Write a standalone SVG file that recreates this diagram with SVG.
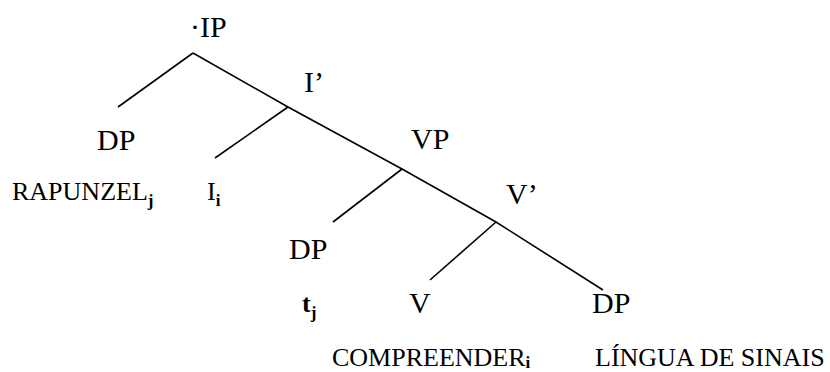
<svg xmlns="http://www.w3.org/2000/svg" width="830" height="372" viewBox="0 0 830 372">
<style>
text{font-family:'Liberation Serif','Times New Roman',Times,'DejaVu Serif',serif;fill:#000}
.n{font-size:30px}
.t{font-size:26px}
.s{font-size:17px;font-weight:bold}
.b{font-weight:bold}
.e{stroke:#000;stroke-width:1.6;fill:none}
</style>
<rect width="830" height="372" fill="#fff"/>
<g id="connectors">
<polyline class="e" points="193,53 288,107 402,169 496,222 603,290"/>
<line class="e" x1="193" y1="53" x2="118" y2="107"/>
<line class="e" x1="288" y1="107" x2="215" y2="158"/>
<line class="e" x1="402" y1="169" x2="333" y2="222"/>
<line class="e" x1="496" y1="222" x2="430" y2="280"/>
</g>
<g id="IP"><text class="n" x="190" y="37" font-family="Liberation Serif, serif">·IP</text></g>
<g id="Ibar"><text class="n" x="304" y="92" font-family="Liberation Serif, serif">I’</text></g>
<g id="DP1"><text class="n" x="97" y="150" font-family="Liberation Serif, serif">DP</text></g>
<g id="RAPUNZEL"><text class="t" x="12" y="200" font-family="Liberation Serif, serif">RAPUNZEL<tspan class="s" dy="6">j</tspan></text></g>
<g id="I"><text class="t" x="207" y="200" font-family="Liberation Serif, serif">I<tspan class="s" dy="6">i</tspan></text></g>
<g id="VP"><text class="n" x="411" y="149" font-family="Liberation Serif, serif">VP</text></g>
<g id="Vbar"><text class="n" x="506" y="204" font-family="Liberation Serif, serif">V’</text></g>
<g id="DP2"><text class="n" x="289" y="259" font-family="Liberation Serif, serif">DP</text></g>
<g id="tj"><text class="t b" x="302" y="312" font-family="Liberation Serif, serif">t<tspan class="s" dy="6">j</tspan></text></g>
<g id="V"><text class="n" x="409" y="313" font-family="Liberation Serif, serif">V</text></g>
<g id="DP3"><text class="n" x="592" y="313" font-family="Liberation Serif, serif">DP</text></g>
<g id="COMPREENDER"><text class="t" x="332" y="366" font-family="Liberation Serif, serif">COMPREENDER<tspan class="s" font-size="16" dy="2">i</tspan></text></g>
<g id="LINGUA"><text class="t" x="595" y="366" font-family="Liberation Serif, serif">LÍNGUA DE SINAIS</text></g>
</svg>
